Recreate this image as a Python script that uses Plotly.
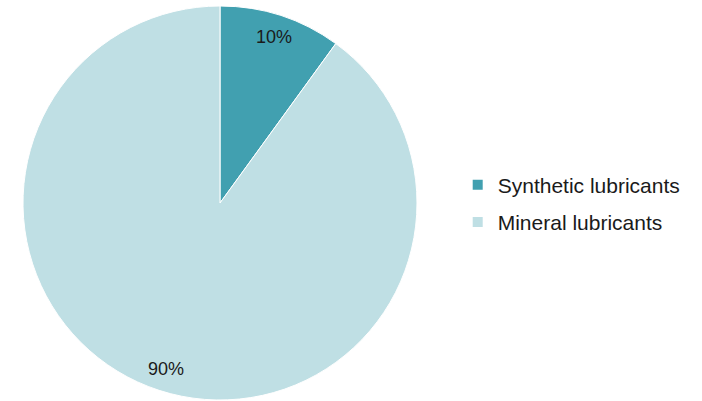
import math
import plotly.graph_objects as go

labels = ["Synthetic lubricants", "Mineral lubricants"]
values = [10, 90]
colors = ["#41a0b0", "#bfdfe4"]

W, H = 702, 401
dx0, dx1 = 23 / W, 417 / W
dy0, dy1 = 1 / H, 395 / H

fig = go.Figure()
fig.add_trace(go.Pie(
    labels=labels, values=values, sort=False, direction="clockwise", rotation=0,
    marker=dict(colors=colors, line=dict(color="white", width=1)),
    textinfo="none", showlegend=False, hoverinfo="label+percent",
    domain=dict(x=[dx0, dx1], y=[dy0, dy1]),
))

# legend entries
for lab, col in zip(labels, colors):
    fig.add_trace(go.Scatter(
        x=[None], y=[None], mode="markers", name=lab, legendgroup=lab,
        marker=dict(symbol="square", size=10, color=col),
    ))

# percentage labels placed along slice bisectors
total = sum(values)
cx_px = (dx0 + dx1) / 2 * W
cy_px = (1 - (dy0 + dy1) / 2) * H
r_px = (dx1 - dx0) * W / 2
cum = 0
annotations = []
for v in values:
    mid = (cum + v / 2) / total * 2 * math.pi
    cum += v
    rr = 0.885 * r_px
    px = cx_px + rr * math.sin(mid)
    py = cy_px - rr * math.cos(mid)
    annotations.append(dict(
        x=px / W, y=1 - py / H, xref="paper", yref="paper",
        xanchor="center", yanchor="middle",
        text=f"{round(v / total * 100)}%", showarrow=False,
        font=dict(size=18, color="#1a1a1a", family="Liberation Sans, Arial, sans-serif"),
    ))

fig.update_layout(
    width=W, height=H, margin=dict(l=0, r=0, t=0, b=0),
    paper_bgcolor="white", plot_bgcolor="white",
    xaxis=dict(visible=False), yaxis=dict(visible=False),
    font=dict(family="Liberation Sans, Arial, sans-serif", color="#1a1a1a"),
    legend=dict(x=0.652, xanchor="left", y=0.4925, yanchor="middle",
                font=dict(size=21, color="#1a1a1a"), tracegroupgap=7,
                bgcolor="rgba(0,0,0,0)"),
    annotations=annotations,
)

fig.write_html("out.html")
